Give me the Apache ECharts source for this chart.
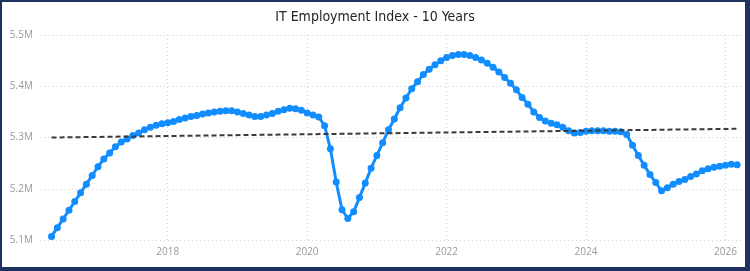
<!DOCTYPE html>
<html>
<head>
<meta charset="utf-8">
<script src="https://cdn.jsdelivr.net/npm/echarts@6/dist/echarts.min.js"></script>
<style>
  html, body { margin: 0; padding: 0; background: #ffffff; }
  #wrap { position: relative; width: 750px; height: 271px; }
  #chart { position: absolute; left: 0; top: 0; width: 750px; height: 271px; }
  #frame { position: absolute; left: 0; top: 0; width: 750px; height: 271px; box-sizing: border-box;
           border-left: 2px solid #1f3160; border-top: 2px solid #1f3160;
           border-right: 5px solid #1f3160; border-bottom: 4px solid #1f3160; pointer-events: none; }
</style>
</head>
<body>
<div id="wrap"><div id="chart"></div><div id="frame"></div></div>
<script>
// ---- Data (values in thousands) ----
const titleText = 'IT Employment Index - 10 Years';
// Monthly categories Mar 2016 .. Apr 2026 (first and last are empty padding months)
const firstYear = 2016, firstMonth = 3;   // Mar 2016
const monthCount = 122;                   // through Apr 2026
// Series values May 2016 .. Mar 2026
const dataStartOffset = 2;                // May 2016 is 2 months after Mar 2016
const employment = [
  5107, 5124, 5141, 5158, 5175, 5192, 5209, 5226,               // May-Dec 2016
  5243, 5258, 5270, 5282, 5291, 5297, 5304, 5309, 5315, 5320, 5324, 5327, // 2017
  5329, 5331, 5335, 5338, 5341, 5343, 5346, 5348, 5350, 5351, 5352, 5352, // 2018
  5350, 5347, 5344, 5341, 5341, 5344, 5347, 5351, 5354, 5357, 5356, 5353, // 2019
  5348, 5344, 5340, 5323, 5278, 5213, 5159, 5142, 5155, 5183, 5211, 5240, // 2020
  5265, 5290, 5315, 5336, 5358, 5377, 5395, 5409, 5423, 5433, 5442, 5450, // 2021
  5456, 5460, 5462, 5462, 5460, 5456, 5451, 5445, 5437, 5428, 5417, 5406, // 2022
  5393, 5378, 5365, 5350, 5339, 5332, 5328, 5325, 5320, 5313, 5309, 5310, // 2023
  5312, 5313, 5313, 5313, 5312, 5312, 5311, 5306, 5285, 5265, 5246, 5228, // 2024
  5212, 5196, 5202, 5209, 5214, 5218, 5224, 5229, 5235, 5239, 5242, 5244, // 2025
  5246, 5248, 5247                                                        // Jan-Mar 2026
];
const trendStart = 5300;
const trendEnd = 5317;
const yMin = 5100, yMax = 5500, yStep = 100;
const tickYears = [2018, 2020, 2022, 2024, 2026];

// ---- Build categories ----
const categories = [];
for (let i = 0; i < monthCount; i++) {
  const m0 = firstMonth - 1 + i;
  const y = firstYear + Math.floor(m0 / 12);
  const m = (m0 % 12) + 1;
  categories.push(y + '-' + (m < 10 ? '0' + m : m));
}
const lineData = categories.map((c, i) => {
  const j = i - dataStartOffset;
  return (j >= 0 && j < employment.length) ? employment[j] : null;
});
const trendData = categories.map((c, i) => {
  const j = i - dataStartOffset;
  if (j === 0) return trendStart;
  if (j === employment.length - 1) return trendEnd;
  return null;
});
const isTick = (value) => {
  const parts = String(value).split('-');
  return parts[1] === '01' && tickYears.indexOf(+parts[0]) >= 0;
};
const tickInterval = (index, value) => isTick(value);

const chart = echarts.init(document.getElementById('chart'), null, { renderer: 'canvas' });
chart.setOption({
  animation: false,
  backgroundColor: '#ffffff',
  title: {
    text: titleText,
    left: 'center',
    top: 5,
    textStyle: { fontFamily: 'DejaVu Sans Condensed', fontWeight: 'normal', fontSize: 14, color: '#252423' }
  },
  grid: { left: 39.9, right: 7.1, top: 35, bottom: 31, containLabel: false },
  xAxis: {
    type: 'category',
    data: categories,
    boundaryGap: false,
    axisLine: { show: false },
    axisTick: { show: false },
    axisLabel: {
      interval: tickInterval,
      formatter: (v) => v.split('-')[0],
      color: '#999999',
      fontFamily: 'Open Sans',
      fontSize: 10,
      margin: 7
    },
    splitLine: { show: true, interval: tickInterval, lineStyle: { color: '#d0d0d0', type: [1, 3], width: 1 } }
  },
  yAxis: {
    type: 'value',
    min: yMin, max: yMax, interval: yStep,
    axisLine: { show: false },
    axisTick: { show: false },
    axisLabel: {
      formatter: (v) => (v / 1000).toFixed(1) + 'M',
      color: '#999999',
      fontFamily: 'Open Sans',
      fontSize: 10,
      margin: 7
    },
    splitLine: { show: true, lineStyle: { color: '#d0d0d0', type: [1, 3], width: 1 } }
  },
  series: [
    {
      name: 'Trend',
      type: 'line',
      data: trendData,
      connectNulls: true,
      symbol: 'none',
      lineStyle: { color: '#3a3a3a', width: 2, type: [5, 3] },
      z: 3
    },
    {
      name: 'IT Employment',
      type: 'line',
      data: lineData,
      symbol: 'circle',
      symbolSize: 7,
      showSymbol: true,
      showAllSymbol: true,
      itemStyle: { color: '#118DFF' },
      lineStyle: { color: '#118DFF', width: 3 },
      z: 2
    }
  ]
});
</script>
</body>
</html>
